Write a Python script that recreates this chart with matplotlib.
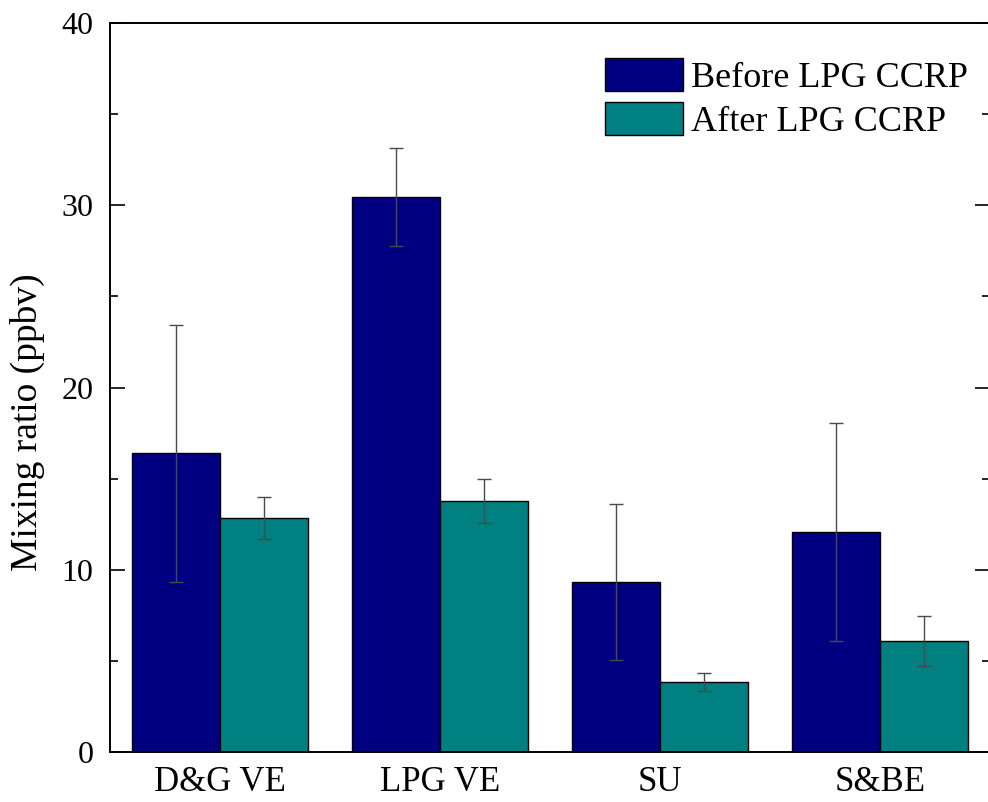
import matplotlib.pyplot as plt
import numpy as np

plt.rcParams['font.family'] = ['Liberation Serif', 'DejaVu Serif']

categories = ['D&G VE', 'LPG VE', 'SU', 'S&BE']
before = [16.4, 30.45, 9.33, 12.07]
before_err = [7.05, 2.7, 4.3, 6.0]
after = [12.84, 13.77, 3.84, 6.09]
after_err = [1.15, 1.2, 0.47, 1.35]

x = np.arange(1, len(categories) + 1)
w = 0.4

fig = plt.figure(figsize=(9.88, 8.02), dpi=100)
ax = fig.add_axes([0.1113, 0.0623, 0.8907, 0.909])

err_kw = dict(ecolor='#4a4a4a', elinewidth=1.0, capsize=4.7, capthick=1.0)
ax.bar(x - w / 2, before, w, yerr=before_err, color='#000080', edgecolor='black',
       linewidth=1.0, label='Before LPG CCRP', error_kw=err_kw)
ax.bar(x + w / 2, after, w, yerr=after_err, color='#008080', edgecolor='black',
       linewidth=1.0, label='After LPG CCRP', error_kw=err_kw)

ax.set_xlim(0.5, 4.5)
ax.set_ylim(0, 40)
ax.set_xticks(x)
ax.set_xticklabels(categories)
ax.set_yticks([0, 10, 20, 30, 40])
ax.set_yticks([5, 15, 25, 35], minor=True)
ax.tick_params(axis='x', length=0, labelsize=25, pad=10)
ax.tick_params(axis='y', which='major', direction='in', length=11, width=1.2,
               labelsize=23, right=True, pad=12)
ax.tick_params(axis='y', which='minor', direction='in', length=6, width=1.2, right=True)
for s in ax.spines.values():
    s.set_linewidth(1.4)

ax.set_ylabel('Mixing ratio (ppbv)', fontsize=27)
ax.yaxis.set_label_coords(-0.074, 0.452)
ax.legend(loc='upper right', bbox_to_anchor=(1.012, 0.996), frameon=False, fontsize=26,
          handlelength=2.16, handleheight=1.0, handletextpad=0.22, labelspacing=0.2)

fig.savefig('out.png', dpi=100)
